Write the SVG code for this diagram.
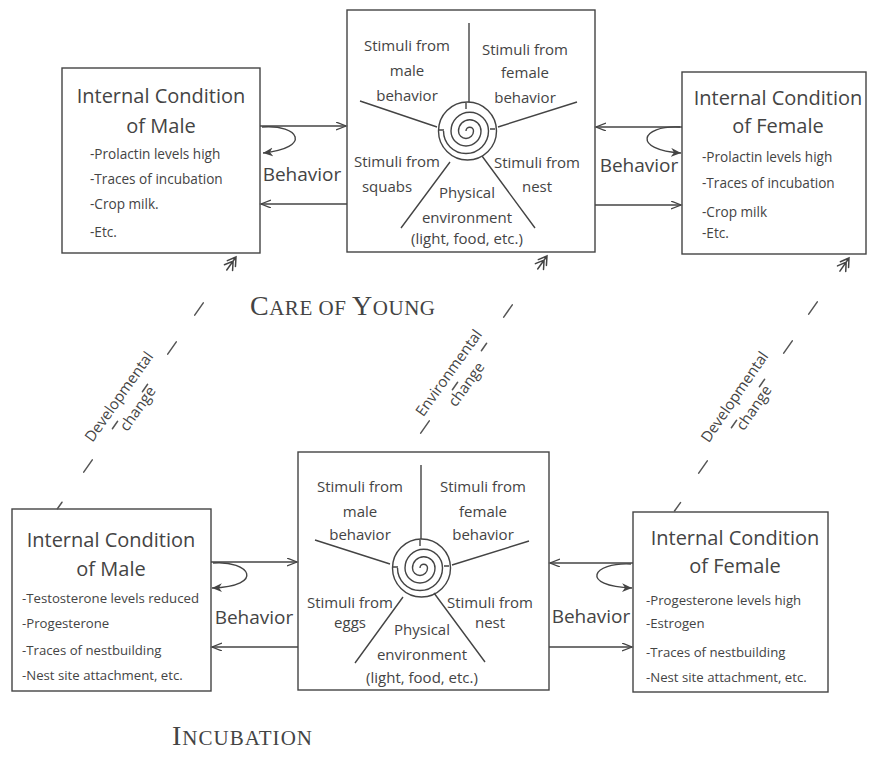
<svg xmlns="http://www.w3.org/2000/svg" width="872" height="766" viewBox="0 0 872 766">
<style>
  rect.box{fill:none;stroke:#444;stroke-width:1.4}
  .ln{stroke:#444;stroke-width:1.4;fill:none}
  .dash{stroke:#555;stroke-width:1.5;fill:none;stroke-linecap:round}
  text{font-family:"Open Sans","Noto Sans",sans-serif;fill:#444}
  .title{font-size:20px;text-anchor:middle}
  .item{font-size:13.6px}
  .itemb{font-size:13.2px}
  .stim{font-size:15px;text-anchor:middle}
  .beh{font-size:19px;text-anchor:middle}
  .chg{font-size:15px;text-anchor:middle}
  .cap{font-family:"Liberation Serif","DejaVu Serif",serif;fill:#444}
</style>
<defs>
  <marker id="open" markerUnits="userSpaceOnUse" markerWidth="12" markerHeight="10" refX="10" refY="4" orient="auto">
    <path d="M0,0 L10,4 L0,8" fill="none" stroke="#444" stroke-width="1.3"/>
  </marker>
  <marker id="loop" markerUnits="userSpaceOnUse" markerWidth="12" markerHeight="10" refX="10" refY="4.5" orient="auto">
    <path d="M0,0 L10,4.5 L0,9 L3,4.5 z" fill="#444"/>
  </marker>
  <path id="dbl" d="M-16,0 H0 M-8,-5 L0,0 L-8,5 M-13,-5 L-5,0 L-13,5" fill="none" stroke="#444" stroke-width="1.5" stroke-linecap="round"/>
</defs>
<rect width="872" height="766" fill="#fff"/>

<!-- CARE OF YOUNG -->
<g id="male-care">
  <rect class="box" x="62" y="68" width="198" height="185"/>
  <text class="title" x="161" y="103">Internal Condition</text>
  <text class="title" x="161" y="133">of Male</text>
  <text class="item" x="90" y="159">-Prolactin levels high</text>
  <text class="item" x="90" y="184">-Traces of incubation</text>
  <text class="item" x="90" y="209">-Crop milk.</text>
  <text class="item" x="90" y="237">-Etc.</text>
</g>

<g id="stimuli-care">
  <rect class="box" x="347" y="10" width="248" height="242"/>
  <path class="ln" d="M469,23 V102 M360,101 L437,127 M498,127 L577,102 M450,162 L401,228 M482,156 L535,228"/>
  <circle class="ln" cx="467.5" cy="131" r="29"/>
  <path class="ln" d="M466,131 A3.75,3.75 0 0 1 473.5,131 A7.5,7.5 0 0 1 458.5,131 A11.25,11.25 0 0 1 481,131 A15,15 0 0 1 451,131 A18.75,18.75 0 0 1 488.5,131 A22.5,22.5 0 0 1 443.5,131"/>
  <path class="ln" d="M439,130 H444 M490,129 H495 M466,109 V103"/>
  <text class="stim" x="407" y="51">Stimuli  from</text>
  <text class="stim" x="407" y="76">male</text>
  <text class="stim" x="407" y="101">behavior</text>
  <text class="stim" x="525" y="55">Stimuli  from</text>
  <text class="stim" x="525" y="78">female</text>
  <text class="stim" x="525" y="103">behavior</text>
  <text class="stim" x="397" y="167">Stimuli from</text>
  <text class="stim" x="387" y="192">squabs</text>
  <text class="stim" x="537" y="168">Stimuli from</text>
  <text class="stim" x="537" y="192">nest</text>
  <text class="stim" x="467" y="198">Physical</text>
  <text class="stim" x="467" y="223">environment</text>
  <text class="stim" x="467" y="244">(light, food, etc.)</text>
</g>

<g id="female-care">
  <rect class="box" x="682" y="72" width="184" height="182"/>
  <text class="title" x="778" y="105">Internal Condition</text>
  <text class="title" x="778" y="133">of Female</text>
  <text class="item" x="702" y="162">-Prolactin levels high</text>
  <text class="item" x="702" y="188">-Traces of incubation</text>
  <text class="item" x="702" y="217">-Crop milk</text>
  <text class="item" x="702" y="238">-Etc.</text>
</g>

<g id="label-care">
  <text class="cap" x="250" y="315" textLength="185" lengthAdjust="spacing"><tspan font-size="28">C</tspan><tspan font-size="21">ARE OF </tspan><tspan font-size="28">Y</tspan><tspan font-size="21">OUNG</tspan></text>
</g>

<!-- INCUBATION -->
<g id="male-incubation">
  <rect class="box" x="12" y="509" width="199" height="182"/>
  <text class="title" x="111" y="547">Internal Condition</text>
  <text class="title" x="111" y="576">of Male</text>
  <text class="itemb" x="22" y="603">-Testosterone levels reduced</text>
  <text class="itemb" x="22" y="628">-Progesterone</text>
  <text class="itemb" x="22" y="655">-Traces of nestbuilding</text>
  <text class="itemb" x="22" y="680">-Nest site attachment, etc.</text>
</g>

<g id="stimuli-incubation">
  <rect class="box" x="298" y="452" width="251" height="238"/>
  <path class="ln" d="M421,465 V539 M315,540 L390,564 M452,565 L529,541 M403,597 L355,663 M434,593 L485,662"/>
  <circle class="ln" cx="421.5" cy="568" r="29"/>
  <path class="ln" d="M420,568 A3.75,3.75 0 0 1 427.5,568 A7.5,7.5 0 0 1 412.5,568 A11.25,11.25 0 0 1 435,568 A15,15 0 0 1 405,568 A18.75,18.75 0 0 1 442.5,568 A22.5,22.5 0 0 1 397.5,568"/>
  <path class="ln" d="M393,567 H398 M444,566 H449 M420,546 V540"/>
  <text class="stim" x="360" y="492">Stimuli  from</text>
  <text class="stim" x="360" y="517">male</text>
  <text class="stim" x="360" y="540">behavior</text>
  <text class="stim" x="483" y="492">Stimuli  from</text>
  <text class="stim" x="483" y="517">female</text>
  <text class="stim" x="483" y="540">behavior</text>
  <text class="stim" x="350" y="608">Stimuli from</text>
  <text class="stim" x="350" y="628">eggs</text>
  <text class="stim" x="490" y="608">Stimuli from</text>
  <text class="stim" x="490" y="628">nest</text>
  <text class="stim" x="422" y="635">Physical</text>
  <text class="stim" x="422" y="660">environment</text>
  <text class="stim" x="422" y="683">(light, food, etc.)</text>
</g>

<g id="female-incubation">
  <rect class="box" x="633" y="512" width="195" height="180"/>
  <text class="title" x="735" y="545">Internal Condition</text>
  <text class="title" x="735" y="573">of Female</text>
  <text class="itemb" x="646" y="605">-Progesterone levels high</text>
  <text class="itemb" x="646" y="628">-Estrogen</text>
  <text class="itemb" x="646" y="657">-Traces of nestbuilding</text>
  <text class="itemb" x="646" y="682">-Nest site attachment, etc.</text>
</g>

<g id="label-incubation">
  <text class="cap" x="172" y="745" textLength="140" lengthAdjust="spacing"><tspan font-size="28">I</tspan><tspan font-size="21">NCUBATION</tspan></text>
</g>

<!-- connectors -->
<g id="connectors">
  <line class="ln" x1="260" y1="126" x2="346" y2="126" marker-end="url(#open)"/>
  <path class="ln" d="M262,127 C300,124 312,148 263,153" marker-end="url(#loop)"/>
  <line class="ln" x1="347" y1="204" x2="261" y2="204" marker-end="url(#open)"/>
  <text class="beh" x="302" y="181">Behavior</text>

  <line class="ln" x1="682" y1="127" x2="596" y2="127" marker-end="url(#open)"/>
  <path class="ln" d="M680,127 C640,125 632,150 681,153" marker-end="url(#loop)"/>
  <line class="ln" x1="595" y1="205" x2="681" y2="205" marker-end="url(#open)"/>
  <text class="beh" x="639" y="172">Behavior</text>

  <line class="ln" x1="211" y1="562" x2="297" y2="562" marker-end="url(#open)"/>
  <path class="ln" d="M213,563 C250,560 266,586 212,588" marker-end="url(#loop)"/>
  <line class="ln" x1="298" y1="647" x2="212" y2="647" marker-end="url(#open)"/>
  <text class="beh" x="254" y="624">Behavior</text>

  <line class="ln" x1="633" y1="563" x2="550" y2="563" marker-end="url(#open)"/>
  <path class="ln" d="M631,564 C592,562 579,586 632,588" marker-end="url(#loop)"/>
  <line class="ln" x1="549" y1="647" x2="632" y2="647" marker-end="url(#open)"/>
  <text class="beh" x="591" y="623">Behavior</text>

  <use href="#dbl" transform="translate(236,257) rotate(-54.7)"/>
  <path class="dash" d="M194.7,315.1 L203.3,302.9 M167.7,354.1 L176.3,341.9 M142.4,391.7 L147.6,384.3 M112.4,428.7 L117.6,421.3 M83.7,472.1 L92.3,459.9 M57.4,508.7 L62,502.2"/>
  <g transform="translate(134,400) rotate(-54.7)">
    <text class="chg" x="-6" y="-9">Developmental</text>
    <text class="chg" x="-5" y="13">change</text>
  </g>

  <use href="#dbl" transform="translate(547,256) rotate(-54.4)"/>
  <path class="dash" d="M503.7,317.1 L512.3,304.9 M481.4,350.7 L486.6,343.3 M452.4,389.7 L457.6,382.3 M420.7,433.1 L429.3,420.9"/>
  <g transform="translate(458.6,380) rotate(-54.4)">
    <text class="chg" x="0" y="-7">Environmental</text>
    <text class="chg" x="1" y="14">change</text>
  </g>

  <use href="#dbl" transform="translate(849,258) rotate(-55.4)"/>
  <path class="dash" d="M808.7,314.1 L817.3,301.9 M783.7,353.1 L792.3,340.9 M759.4,386.7 L764.6,379.3 M731.4,427.7 L736.6,420.3 M698.7,473.1 L707.3,460.9 M674.5,511 L680.5,502.6"/>
  <g transform="translate(749.6,400) rotate(-55.4)">
    <text class="chg" x="-6" y="-9">Developmental</text>
    <text class="chg" x="-4" y="13">change</text>
  </g>
</g>
</svg>
